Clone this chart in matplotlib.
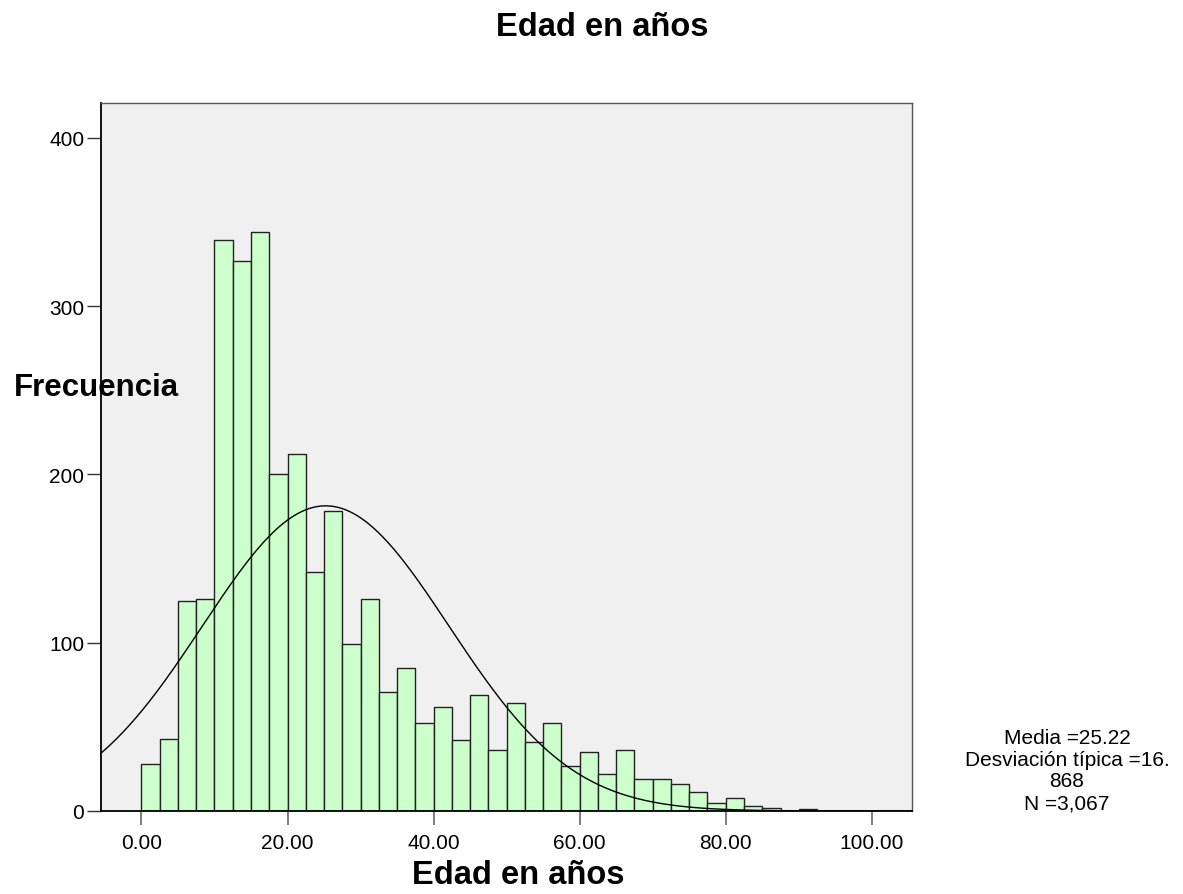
import numpy as np
import matplotlib
matplotlib.use("Agg")
import matplotlib.pyplot as plt

plt.rcParams['font.family'] = ['Liberation Sans', 'DejaVu Sans']

# Data
bin_width = 2.5
bin_start = 0.0
counts = [28, 43, 125, 126, 339, 327, 344, 200, 212, 142, 178, 99, 126, 71, 85,
          52, 62, 42, 69, 36, 64, 41, 52, 27, 35, 22, 36, 19, 19, 16, 11, 5, 8,
          3, 2, 0, 1]
media = 25.22
desv = 16.868
n_total = 3067
x_ticks = [0, 20, 40, 60, 80, 100]
y_ticks = [0, 100, 200, 300, 400]
title = "Edad en años"
xlabel = "Edad en años"
ylabel = "Frecuencia"
stats_text = "Media =25.22\nDesviación típica =16.\n868\nN =3,067"

W, H = 1183, 895
fig = plt.figure(figsize=(W / 100, H / 100), dpi=100)
fig.patch.set_facecolor('white')
ax = fig.add_axes([101 / W, 1 - 812 / H, (912 - 101) / W, (812 - 104) / H])
ax.set_facecolor('#f0f0f0')

edges = bin_start + bin_width * np.arange(len(counts))
ax.bar(edges, counts, width=bin_width, align='edge', color='#ccffcc',
       edgecolor='#222222', linewidth=1.0, zorder=2)

xlim = (-5.54, 105.5)
xs = np.linspace(xlim[0], xlim[1], 600)
ys = n_total * bin_width / (desv * np.sqrt(2 * np.pi)) * np.exp(-0.5 * ((xs - media) / desv) ** 2)
ax.plot(xs, ys, color='black', linewidth=1.0, zorder=3)

ax.set_xlim(*xlim)
ax.set_ylim(0, 420.7)
ax.set_xticks(x_ticks)
ax.set_xticklabels([f"{v:.2f}" for v in x_ticks])
ax.set_yticks(y_ticks)
ax.set_yticklabels([str(v) for v in y_ticks])
ax.tick_params(axis='x', length=10, width=1.2, color='#666666', labelsize=15, pad=6)
ax.tick_params(axis='y', length=10, width=1.0, color='#333333', labelsize=15, pad=2)

for side in ['left', 'bottom']:
    ax.spines[side].set_color('black')
    ax.spines[side].set_linewidth(1.3)
for side in ['top', 'right']:
    ax.spines[side].set_color('#555555')
    ax.spines[side].set_linewidth(1.0)

fig.text(602 / W, 1 - 28 / H, title, ha='center', va='center',
         fontsize=23.5, fontweight='bold')
fig.text(518 / W, 1 - 876 / H, xlabel, ha='center', va='center',
         fontsize=23.5, fontweight='bold')
fig.text(96 / W, 1 - 388 / H, ylabel, ha='center', va='center',
         fontsize=22.5, fontweight='bold', zorder=5)
fig.text(1067 / W, 1 - 771 / H, stats_text, ha='center', va='center',
         fontsize=15, linespacing=1.2)

fig.savefig('out.png', dpi=100)
